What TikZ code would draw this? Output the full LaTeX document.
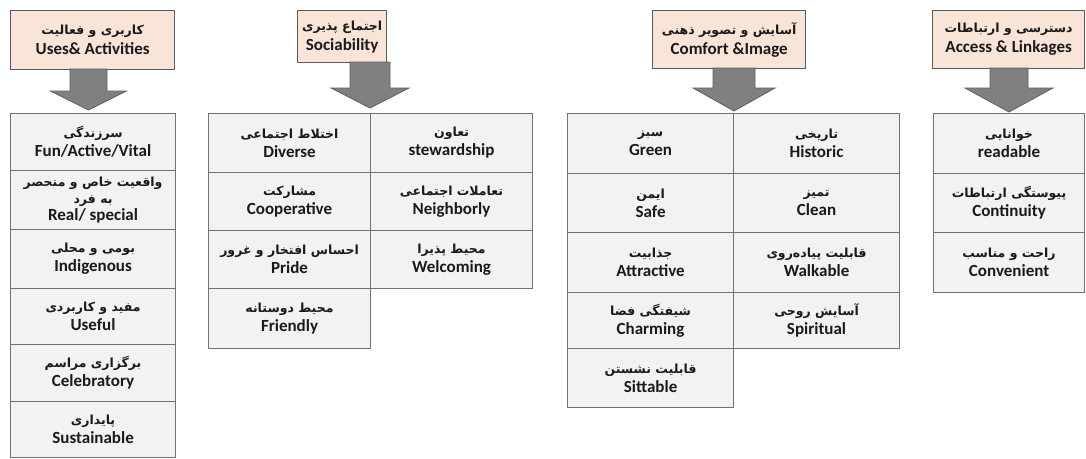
\documentclass[tikz,border=0pt]{standalone}
\usepackage{fontspec}
\setmainfont{Carlito}
\newfontfamily\fafont[Script=Arabic]{DejaVu Sans}
\TeXXeTstate=1
\newcommand{\fa}[1]{{\fafont\bfseries\fontsize{12.5}{19}\selectfont\beginR #1\endR}}
\newcommand{\en}[1]{{\bfseries #1}}
\definecolor{hdrfill}{HTML}{F9E4D8}
\definecolor{hdrline}{HTML}{5A5A5A}
\definecolor{cellfill}{HTML}{F2F2F2}
\definecolor{cellline}{HTML}{727272}
\definecolor{arrfill}{HTML}{808080}
\definecolor{arrline}{HTML}{5E5E5E}
\definecolor{txt}{HTML}{1A1A1A}
\tikzset{
  hdrbox/.style={draw=hdrline, line width=1.3pt, fill=hdrfill, inner sep=0pt,
    align=center, text=txt, anchor=north west, font=\fontsize{17}{20}\selectfont},
  cellbox/.style={draw=cellline, line width=1.1pt, fill=cellfill, inner sep=0pt,
    align=center, text=txt, anchor=north west, font=\fontsize{17}{19}\selectfont},
  blockarrow/.style={fill=arrfill, draw=arrline, line width=0.8pt, line join=miter}
}
% name, x, y, w, h, text
\newcommand{\hdrnode}[6]{\node[hdrbox, minimum width=#4, minimum height=#5] (#1) at (#2,#3) {#6};}
\newcommand{\cellnode}[6]{\node[cellbox, minimum width=#4, minimum height=#5] (#1) at (#2,#3) {#6};}
% name of tip coordinate, cx, top, headtop, tip y, half shaft, half head
\newcommand{\blkarrow}[7]{%
  \coordinate (#1) at (#2,#5);
  \draw[blockarrow] (#2-#6,#3) -- (#2+#6,#3) -- (#2+#6,#4) -- (#2+#7,#4) -- (#1)
    -- (#2-#7,#4) -- (#2-#6,#4) -- cycle;}
\begin{document}
\begin{tikzpicture}[x=1pt,y=-1pt]
\useasboundingbox[fill=white] (0,0) rectangle (1086,458);

% headers
\hdrnode{h1}{10}{10}{164}{59}{\fa{کاربری و فعالیت}\\\en{Uses\& Activities}}
\hdrnode{h2}{297}{10}{89}{52}{\fa{اجتماع پذیری}\\\en{Sociability}}
\hdrnode{h3}{652}{10}{153}{58}{\fa{آسایش و تصویر ذهنی}\\\en{Comfort \&Image}}
\hdrnode{h4}{932}{10}{152}{58}{\fa{دسترسی و ارتباطات}\\\en{Access \& Linkages}}

% arrows
\blkarrow{tip1}{88.5}{69}{91}{110}{18.5}{38}
\blkarrow{tip2}{370}{62}{88}{108}{20}{39}
\blkarrow{tip3}{734}{68}{88}{111}{21}{41}
\blkarrow{tip4}{1009}{68}{88}{112}{19}{44}

% table 1
\cellnode{t1a}{10}{113}{165}{57}{\fa{سرزندگی}\\\en{Fun/Active/Vital}}
\cellnode{t1b}{10}{170}{165}{59}{\fa{واقعیت خاص و منحصر}\\[-2pt]\fa{به فرد}\\[-2pt]\en{Real/ special}}
\cellnode{t1c}{10}{229}{165}{59}{\fa{بومی و محلی}\\\en{Indigenous}}
\cellnode{t1d}{10}{288}{165}{56}{\fa{مفید و کاربردی}\\\en{Useful}}
\cellnode{t1e}{10}{344}{165}{57}{\fa{برگزاری مراسم}\\\en{Celebratory}}
\cellnode{t1f}{10}{401}{165}{56}{\fa{پایداری}\\\en{Sustainable}}

% table 2
\cellnode{t2a}{208}{113}{162}{59}{\fa{اختلاط اجتماعی}\\\en{Diverse}}
\cellnode{t2b}{208}{172}{162}{58}{\fa{مشارکت}\\\en{Cooperative}}
\cellnode{t2c}{208}{230}{162}{58}{\fa{احساس افتخار و غرور}\\\en{Pride}}
\cellnode{t2d}{208}{288}{162}{60}{\fa{محیط دوستانه}\\\en{Friendly}}
\cellnode{t2e}{370}{113}{162}{59}{\fa{تعاون}\\\en{stewardship}}
\cellnode{t2f}{370}{172}{162}{58}{\fa{تعاملات اجتماعی}\\\en{Neighborly}}
\cellnode{t2g}{370}{230}{162}{58}{\fa{محیط پذیرا}\\\en{Welcoming}}

% table 3
\cellnode{t3a}{567}{113}{166}{60}{\fa{سبز}\\\en{Green}}
\cellnode{t3b}{567}{173}{166}{59}{\fa{ایمن}\\\en{Safe}}
\cellnode{t3c}{567}{232}{166}{60}{\fa{جذابیت}\\\en{Attractive}}
\cellnode{t3d}{567}{292}{166}{56}{\fa{شیفتگی فضا}\\\en{Charming}}
\cellnode{t3e}{567}{348}{166}{59}{\fa{قابلیت نشستن}\\\en{Sittable}}
\cellnode{t3f}{733}{113}{166}{60}{\fa{تاریخی}\\\en{Historic}}
\cellnode{t3g}{733}{173}{166}{59}{\fa{تمیز}\\\en{Clean}}
\cellnode{t3h}{733}{232}{166}{60}{\fa{قابلیت پیاده‌روی}\\\en{Walkable}}
\cellnode{t3i}{733}{292}{166}{56}{\fa{آسایش روحی}\\\en{Spiritual}}

% table 4
\cellnode{t4a}{933}{113}{151}{60}{\fa{خوانایی}\\\en{readable}}
\cellnode{t4b}{933}{173}{151}{59}{\fa{پیوستگی ارتباطات}\\\en{Continuity}}
\cellnode{t4c}{933}{232}{151}{60}{\fa{راحت و مناسب}\\\en{Convenient}}
\end{tikzpicture}
\end{document}
